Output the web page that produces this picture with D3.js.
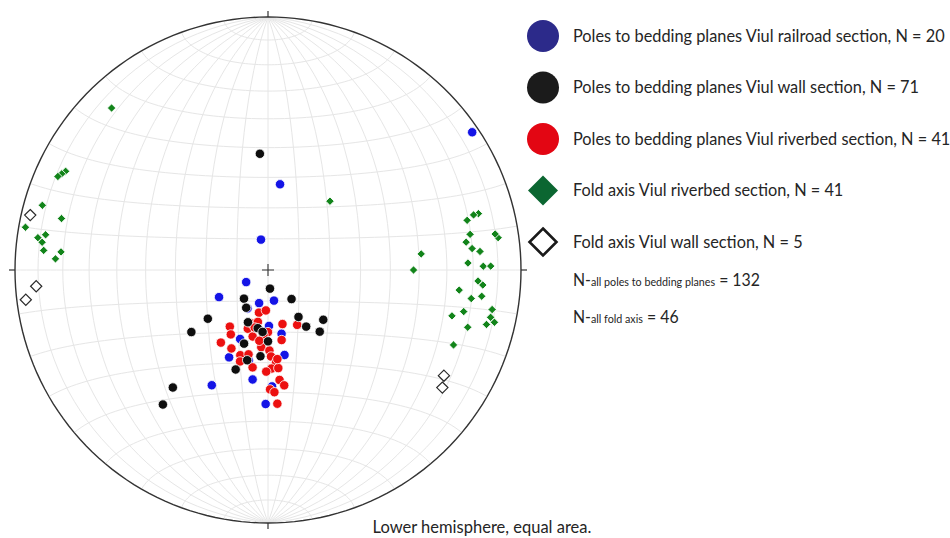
<!DOCTYPE html>
<html>
<head>
<meta charset="utf-8">
<script src="https://cdn.jsdelivr.net/npm/d3@7"></script>
<style>
  body { margin: 0; background: #fff; }
  svg { display: block; }
  text { font-family: Lato, "Open Sans", sans-serif; fill: #252525; }
</style>
</head>
<body>
<svg id="chart" width="950" height="538"></svg>
<script>
// Orientations as [trend, plunge] in degrees (lower hemisphere).
const railroadPoles = [
  [56, 3], [8, 62], [347, 80], [241, 82], [241, 72], [195, 79], [169, 80], [179, 72],
  [168, 69], [202, 66], [204, 59], [169, 62], [188, 54], [206, 48], [178, 52], [181, 46],
  [208, 76], [192, 60]
];
const wallPoles = [
  [356, 52], [174, 84], [220, 78], [141, 78], [210, 76], [231, 65], [147, 72], [132, 66],
  [201, 72], [146, 68], [140, 64], [231, 58], [190, 71], [185, 70], [198, 65], [180, 67],
  [185, 62], [193, 60], [198, 56], [219, 40], [218, 33]
];
const riverbedPoles = [
  [192, 76], [183, 77], [214, 68], [210, 66], [199, 70], [197, 72], [191, 73], [180, 70],
  [165, 72], [152, 70], [169, 67], [213, 62], [205, 62], [193, 68], [185, 65], [179, 64],
  [198, 61], [193, 62], [178, 62], [197, 59], [189, 58], [175, 60], [178, 58], [181, 57],
  [174, 58], [174, 54], [172, 52], [179, 51], [177, 50], [176, 46], [193, 71], [184, 69],
  [174, 61], [187, 67]
];
const riverbedFoldAxes = [
  [316, 12], [296, 12], [295, 11], [294, 10], [286, 8], [284, 17], [280, 3], [278, 9],
  [279, 12], [277, 11], [275, 12], [275, 19], [273, 17], [75, 15], [75, 17], [76, 20],
  [80, 20], [82, 22], [84, 20], [85, 17], [82, 9], [81, 10], [84, 39], [90, 42],
  [88, 22], [89, 16], [89, 13], [93, 18], [94, 16], [96, 25], [98, 20], [97, 16],
  [100, 11], [104, 26], [102, 22], [102, 11], [103, 9], [104, 12], [106, 19], [112, 22],
  [42, 60]
];
const wallFoldAxes = [[283, 4], [266, 9], [263, 4], [121, 20], [124, 18]];

const legendLabels = [
  "Poles to bedding planes Viul railroad section, N = 20",
  "Poles to bedding planes Viul wall section, N = 71",
  "Poles to bedding planes Viul riverbed section, N = 41",
  "Fold axis Viul riverbed section, N = 41",
  "Fold axis Viul wall section, N = 5"
];
const totals = [
  { main: "N-", sub: "all poles to bedding planes", value: " = 132" },
  { main: "N-", sub: "all fold axis", value: " = 46" }
];
const caption = "Lower hemisphere, equal area.";

const svg = d3.select("#chart");
const cx = 268, cy = 270, R = 253;

// Schmidt net: equatorial-aspect Lambert azimuthal equal-area grid, 10° spacing.
const netProj = d3.geoAzimuthalEqualArea()
  .rotate([0, 0]).clipAngle(90).precision(0.1)
  .scale(R / Math.SQRT2).translate([cx, cy]);
const graticule = d3.geoGraticule().extent([[-180, -90], [180, 90]]).step([10, 10]);
svg.append("path")
  .datum(graticule())
  .attr("d", d3.geoPath(netProj))
  .attr("fill", "none")
  .attr("stroke", "#e6e6e6")
  .attr("stroke-width", 1);

// Plotting projection: polar aspect, plunge = latitude, trend measured clockwise from north.
const proj = d3.geoAzimuthalEqualArea()
  .rotate([0, -90]).scale(R / Math.SQRT2).translate([cx, cy]);
const xy = d => proj([180 - d[0], d[1]]);

// Primitive circle
svg.append("path")
  .datum({ type: "Sphere" })
  .attr("d", d3.geoPath(netProj))
  .attr("fill", "none")
  .attr("stroke", "#333")
  .attr("stroke-width", 1.4);

// Cardinal ticks outside the primitive
const cardinal = [0, 90, 180, 270];
svg.selectAll("line.tick").data(cardinal).join("line")
  .attr("class", "tick")
  .attr("x1", t => xy([t, 0])[0])
  .attr("y1", t => xy([t, 0])[1])
  .attr("x2", t => cx + (R + 6) * Math.sin(t * Math.PI / 180))
  .attr("y2", t => cy - (R + 6) * Math.cos(t * Math.PI / 180))
  .attr("stroke", "#333").attr("stroke-width", 1.2);

// Centre cross
const c0 = xy([0, 90]);
svg.append("path")
  .attr("d", `M${c0[0] - 6},${c0[1]}H${c0[0] + 6}M${c0[0]},${c0[1] - 6}V${c0[1] + 6}`)
  .attr("stroke", "#333").attr("stroke-width", 1.1);

const diamond = a => `M0,${-a}L${a},0L0,${a}L${-a},0Z`;

function dots(data, color) {
  svg.append("g").selectAll("circle").data(data).join("circle")
    .attr("cx", d => xy(d)[0]).attr("cy", d => xy(d)[1])
    .attr("r", 4.7)
    .attr("fill", color)
    .attr("stroke", "#fff").attr("stroke-width", 0.8);
}
dots(railroadPoles, "#1414e6");
dots(riverbedPoles, "#ec1010");
dots(wallPoles, "#0e0e0e");

svg.append("g").selectAll("path").data(riverbedFoldAxes).join("path")
  .attr("transform", d => `translate(${xy(d)})`)
  .attr("d", diamond(4.2))
  .attr("fill", "#12841a")
  .attr("stroke", "#fff").attr("stroke-width", 0.9);

svg.append("g").selectAll("path").data(wallFoldAxes).join("path")
  .attr("transform", d => `translate(${xy(d)})`)
  .attr("d", diamond(5.6))
  .attr("fill", "#fff")
  .attr("stroke", "#2a2a2a").attr("stroke-width", 1.2);

// Legend
const legendRowY = d3.scalePoint().domain(d3.range(legendLabels.length)).range([36, 242]);
const legendMarks = [
  { kind: "circle", fill: "#2c2a8a" },
  { kind: "circle", fill: "#1b1b1b" },
  { kind: "circle", fill: "#e30613" },
  { kind: "diamond", fill: "#0b6631" },
  { kind: "hollow", fill: "#fff" }
];
const lx = 543, tx = 573;
legendMarks.forEach((m, i) => {
  const y = legendRowY(i);
  if (m.kind === "circle") {
    svg.append("circle").attr("cx", lx).attr("cy", y).attr("r", 16).attr("fill", m.fill);
  } else if (m.kind === "diamond") {
    svg.append("path").attr("transform", `translate(${lx},${y})`).attr("d", diamond(15)).attr("fill", m.fill);
  } else {
    svg.append("path").attr("transform", `translate(${lx},${y})`).attr("d", diamond(13.5))
      .attr("fill", "#fff").attr("stroke", "#1a1a1a").attr("stroke-width", 2.6);
  }
});

const legendText = svg.append("g");
legendLabels.forEach((s, i) => {
  legendText.append("text").attr("x", tx).attr("y", legendRowY(i) + 6)
    .attr("font-size", 17.5).text(s);
});
const totalsY = [286, 323];
totals.forEach((t, i) => {
  const el = legendText.append("text").attr("x", tx).attr("y", totalsY[i]).attr("font-size", 17);
  el.append("tspan").text(t.main);
  el.append("tspan").attr("font-size", 11.5).text(t.sub);
  el.append("tspan").text(t.value);
});
// Horizontal condensing to a narrower face
const firstW = legendText.select("text").node().getComputedTextLength();
const k = 372 / firstW;
legendText.attr("transform", `translate(${tx},0) scale(${k},1) translate(${-tx},0)`);

const cap = svg.append("text").attr("x", 482).attr("y", 533)
  .attr("text-anchor", "middle").attr("font-size", 16.5).text(caption);
const kc = 219 / cap.node().getComputedTextLength();
cap.attr("transform", `translate(482,0) scale(${kc},1) translate(-482,0)`);
</script>
</body>
</html>
